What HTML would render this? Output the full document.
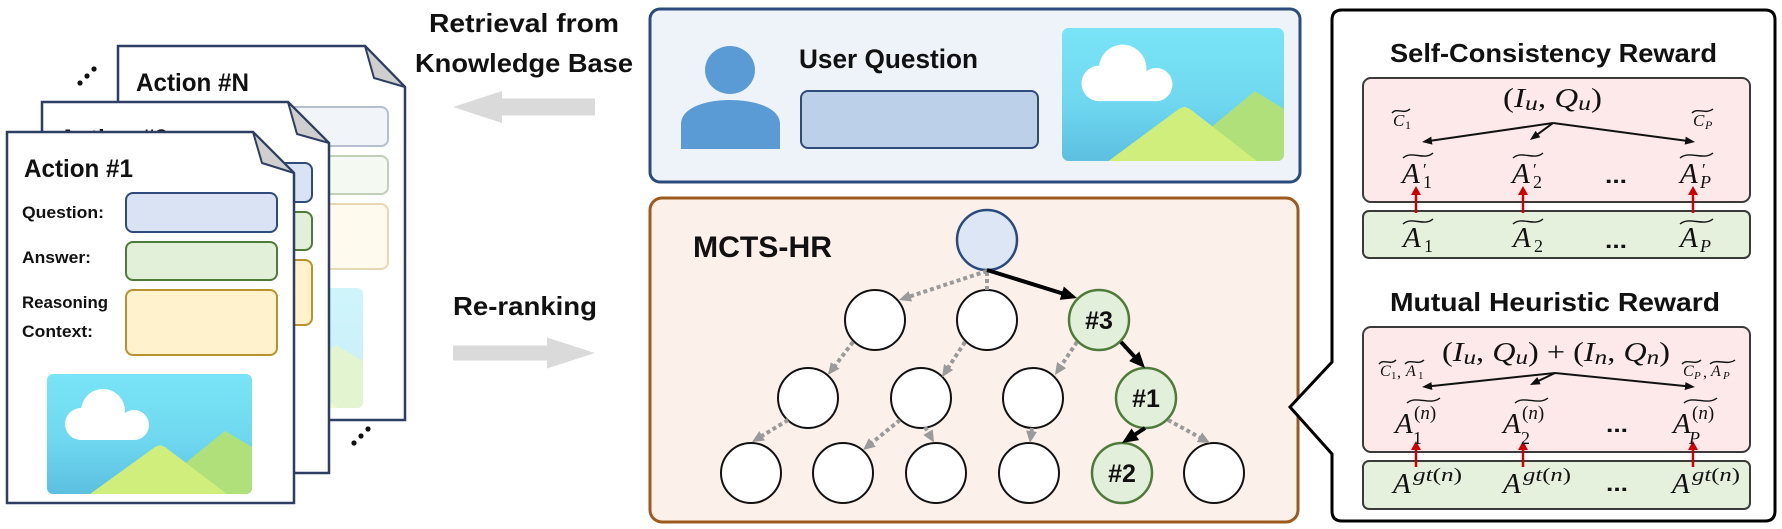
<!DOCTYPE html>
<html><head><meta charset="utf-8">
<style>html,body{margin:0;padding:0;background:#fff}svg{display:block}</style>
</head>
<body>
<svg width="1782" height="529" viewBox="0 0 1782 529" xmlns="http://www.w3.org/2000/svg" font-family="'Liberation Sans', sans-serif">
<defs>
  <linearGradient id="sky" x1="0" y1="0" x2="0" y2="1">
    <stop offset="0" stop-color="#79e4f6"/><stop offset="0.55" stop-color="#6fd8f0"/><stop offset="1" stop-color="#5cbfe0"/>
  </linearGradient>
  <clipPath id="picclip"><rect x="0" y="0" width="205" height="120" rx="6"/></clipPath>
  <g id="pic">
    <g clip-path="url(#picclip)">
      <rect width="205" height="120" fill="url(#sky)"/>
      <g fill="#ffffff">
        <circle cx="56" cy="37" r="22"/>
        <circle cx="34" cy="50" r="16"/>
        <circle cx="87" cy="51" r="15"/>
        <rect x="34" y="40" width="54" height="26"/>
      </g>
      <polygon points="100,120 178,57 205,73 205,120" fill="#afe07a"/>
      <polygon points="43,120 108,73 113,71 118,73 180,120" fill="#cfee7c"/>
    </g>
  </g>
  <marker id="mg" viewBox="0 0 12 11" markerWidth="12" markerHeight="11" refX="2" refY="5.5" orient="auto" markerUnits="userSpaceOnUse">
    <path d="M0,0 L12,5.5 L0,11 Z" fill="#9a9a9a"/>
  </marker>
  <marker id="mb" viewBox="0 0 16 14" markerWidth="16" markerHeight="14" refX="3" refY="7" orient="auto" markerUnits="userSpaceOnUse">
    <path d="M0,0 L16,7 L0,14 Z" fill="#000"/>
  </marker>
  <marker id="mm" viewBox="0 0 10 8" markerWidth="10" markerHeight="8" refX="2" refY="4" orient="auto" markerUnits="userSpaceOnUse">
    <path d="M0,0 L10,4 L0,8 Z" fill="#111"/>
  </marker>
</defs>

<!-- ================= LEFT: PAGES ================= -->
<!-- dots -->
<g fill="#111">
  <circle cx="80" cy="83" r="2.6"/><circle cx="87" cy="76" r="2.6"/><circle cx="94" cy="69" r="2.6"/>
  <circle cx="354" cy="443" r="2.6"/><circle cx="361" cy="436" r="2.6"/><circle cx="368" cy="429" r="2.6"/>
</g>

<!-- Page N -->
<path d="M118,46 H365 L405,87 V420 H118 Z" fill="#fff" stroke="#2d3e62" stroke-width="2.5"/>
<polygon points="365,46 405,87 374,78" fill="#cfcfcf" stroke="#2d3e62" stroke-width="2" stroke-linejoin="round"/>
<text x="136" y="91" font-size="25" font-weight="bold" fill="#111" textLength="113" lengthAdjust="spacingAndGlyphs">Action #N</text>
<g opacity="0.35">
  <rect x="237" y="107" width="151" height="39" rx="7" fill="#dae3f3" stroke="#2f4b7c" stroke-width="2"/>
  <rect x="237" y="156" width="151" height="38" rx="7" fill="#e2efd9" stroke="#4f7a3a" stroke-width="2"/>
  <rect x="237" y="204" width="151" height="65" rx="7" fill="#fff2cc" stroke="#b8922a" stroke-width="2"/>
  <use href="#pic" transform="translate(158,288)"/>
</g>

<!-- Page 2 -->
<path d="M42,102 H288 L329,143 V473 H42 Z" fill="#fff" stroke="#2d3e62" stroke-width="2.5"/>
<polygon points="288,102 329,143 297,134" fill="#cfcfcf" stroke="#2d3e62" stroke-width="2" stroke-linejoin="round"/>
<text x="59" y="147" font-size="25" font-weight="bold" fill="#111" textLength="109" lengthAdjust="spacingAndGlyphs">Action #2</text>
<rect x="161" y="163" width="151" height="39" rx="7" fill="#dae3f3" stroke="#2f4b7c" stroke-width="2"/>
<rect x="161" y="212" width="151" height="38" rx="7" fill="#e2efd9" stroke="#4f7a3a" stroke-width="2"/>
<rect x="161" y="260" width="151" height="65" rx="7" fill="#fff2cc" stroke="#b8922a" stroke-width="2"/>

<!-- Page 1 -->
<path d="M7,132 H253 L294,173 V503 H7 Z" fill="#fff" stroke="#2d3e62" stroke-width="2.5"/>
<polygon points="253,132 294,173 262,163" fill="#cfcfcf" stroke="#2d3e62" stroke-width="2" stroke-linejoin="round"/>
<text x="24" y="177" font-size="25" font-weight="bold" fill="#111" textLength="109" lengthAdjust="spacingAndGlyphs">Action #1</text>
<g font-size="17" font-weight="bold" fill="#111">
  <text x="22" y="218" textLength="82" lengthAdjust="spacingAndGlyphs">Question:</text>
  <text x="22" y="263" textLength="69" lengthAdjust="spacingAndGlyphs">Answer:</text>
  <text x="22" y="308" textLength="86" lengthAdjust="spacingAndGlyphs">Reasoning</text>
  <text x="22" y="337" textLength="71" lengthAdjust="spacingAndGlyphs">Context:</text>
</g>
<rect x="126" y="193" width="151" height="39" rx="7" fill="#dae3f3" stroke="#2f4b7c" stroke-width="2"/>
<rect x="126" y="242" width="151" height="38" rx="7" fill="#e2efd9" stroke="#4f7a3a" stroke-width="2"/>
<rect x="126" y="290" width="151" height="65" rx="7" fill="#fff2cc" stroke="#b8922a" stroke-width="2"/>
<use href="#pic" transform="translate(47,374)"/>

<!-- ================= MIDDLE ARROWS ================= -->
<g font-size="26" font-weight="bold" fill="#111">
  <text x="429" y="32" textLength="190" lengthAdjust="spacingAndGlyphs">Retrieval from</text>
  <text x="415" y="72" textLength="218" lengthAdjust="spacingAndGlyphs">Knowledge Base</text>
  <text x="453" y="315" textLength="144" lengthAdjust="spacingAndGlyphs">Re-ranking</text>
</g>
<polygon points="453,107 502,91 502,98.5 595,98.5 595,115.5 502,115.5 502,123" fill="#dadada"/>
<polygon points="453,345.5 547,345.5 547,337.5 595,353 547,368.5 547,360.5 453,360.5" fill="#dadada"/>

<!-- ================= USER QUESTION ================= -->
<rect x="650" y="9" width="650" height="173" rx="10" fill="#eef2f9" stroke="#2a4b7c" stroke-width="3"/>
<ellipse cx="730" cy="70" rx="25" ry="24" fill="#5b9bd5"/>
<path d="M681,149 V124 C681,108 705,100 730,100 C755,100 780,108 780,124 V149 Z" fill="#5b9bd5"/>
<text x="799" y="68" font-size="27" font-weight="bold" fill="#111" textLength="179" lengthAdjust="spacingAndGlyphs">User Question</text>
<rect x="801" y="91" width="237" height="57" rx="7" fill="#bdd0ea" stroke="#2f4b7c" stroke-width="2"/>
<use href="#pic" transform="translate(1062,28) scale(1.083,1.108)"/>

<!-- ================= MCTS-HR ================= -->
<rect x="650" y="198" width="648" height="324" rx="12" fill="#fcf1ea" stroke="#9e5a1e" stroke-width="3"/>
<text x="693" y="257" font-size="30" font-weight="bold" fill="#111" textLength="139" lengthAdjust="spacingAndGlyphs">MCTS-HR</text>

<!-- nodes -->
<circle cx="987" cy="240" r="30" fill="#dce6f4" stroke="#2a4a7c" stroke-width="2.5"/>
<g fill="#fff" stroke="#111" stroke-width="2">
  <circle cx="875" cy="320" r="30"/>
  <circle cx="987" cy="320" r="30"/>
  <circle cx="808" cy="398" r="30"/>
  <circle cx="921" cy="398" r="30"/>
  <circle cx="1033" cy="398" r="30"/>
  <circle cx="751" cy="473" r="30"/>
  <circle cx="843" cy="473" r="30"/>
  <circle cx="936" cy="473" r="30"/>
  <circle cx="1029" cy="473" r="30"/>
  <circle cx="1214" cy="473" r="30"/>
</g>
<g fill="#e2efda" stroke="#4e7a3a" stroke-width="2.5">
  <circle cx="1099" cy="320" r="30"/>
  <circle cx="1146" cy="398" r="30"/>
  <circle cx="1122" cy="473" r="30"/>
</g>
<g font-size="25" font-weight="bold" fill="#111" text-anchor="middle">
  <text x="1099" y="329">#3</text>
  <text x="1146" y="407">#1</text>
  <text x="1122" y="482">#2</text>
</g>

<!-- dotted edges -->
<g stroke="#9a9a9a" stroke-width="4" stroke-dasharray="4 3" fill="none">
  <line x1="987" y1="271" x2="908.5" y2="296.9" marker-end="url(#mg)"/>
  <line x1="987" y1="272" x2="987" y2="290"/>
  <line x1="853" y1="342" x2="834" y2="367" marker-end="url(#mg)"/>
  <line x1="965" y1="342" x2="947.5" y2="368.7" marker-end="url(#mg)"/>
  <line x1="1077" y1="342" x2="1060.5" y2="366.7" marker-end="url(#mg)"/>
  <line x1="788" y1="420" x2="760.5" y2="436.8" marker-end="url(#mg)"/>
  <line x1="900" y1="420" x2="870.8" y2="443.7" marker-end="url(#mg)"/>
  <line x1="925" y1="427" x2="929" y2="433.9" marker-end="url(#mg)"/>
  <line x1="1032" y1="428" x2="1031.3" y2="433.1" marker-end="url(#mg)"/>
  <line x1="1168" y1="420" x2="1201.2" y2="438.2" marker-end="url(#mg)"/>
</g>
<!-- bold edges -->
<g stroke="#000" stroke-width="4" fill="none">
  <line x1="987" y1="270" x2="1064.6" y2="294.1" marker-end="url(#mb)"/>
  <line x1="1121" y1="342" x2="1136.2" y2="358.5" marker-end="url(#mb)"/>
  <line x1="1145" y1="428" x2="1132.9" y2="435.9" marker-end="url(#mb)"/>
</g>

<!-- ================= RIGHT PANEL ================= -->
<path d="M1342,10 H1765 Q1775,10 1775,20 V511 Q1775,521 1765,521 H1342 Q1332,521 1332,511 V454 L1290,407 L1332,362 V20 Q1332,10 1342,10 Z" fill="#fff" stroke="#000" stroke-width="3" stroke-linejoin="miter"/>
<g font-size="26" font-weight="bold" fill="#111">
  <text x="1390" y="62" textLength="327" lengthAdjust="spacingAndGlyphs">Self-Consistency Reward</text>
  <text x="1390" y="311" textLength="330" lengthAdjust="spacingAndGlyphs">Mutual Heuristic Reward</text>
</g>

<rect x="1363" y="78" width="387" height="124" rx="8" fill="#fde9e9" stroke="#3a3a3a" stroke-width="2"/>
<rect x="1363" y="211" width="387" height="47" rx="6" fill="#e5f0dd" stroke="#3a3a3a" stroke-width="2"/>
<rect x="1363" y="327" width="387" height="125" rx="8" fill="#fde9e9" stroke="#3a3a3a" stroke-width="2"/>
<rect x="1363" y="461" width="387" height="48" rx="6" fill="#e5f0dd" stroke="#3a3a3a" stroke-width="2"/>

<!-- math arrows -->
<g stroke="#111" stroke-width="2" fill="none">
  <line x1="1553" y1="123" x2="1429.9" y2="140.9" marker-end="url(#mm)"/>
  <line x1="1553" y1="123" x2="1536.4" y2="135.2" marker-end="url(#mm)"/>
  <line x1="1553" y1="123" x2="1687.1" y2="140.9" marker-end="url(#mm)"/>
  <line x1="1555" y1="373" x2="1430" y2="386.2" marker-end="url(#mm)"/>
  <line x1="1555" y1="373" x2="1537.2" y2="381.5" marker-end="url(#mm)"/>
  <line x1="1555" y1="373" x2="1687" y2="386.2" marker-end="url(#mm)"/>
</g>

<!-- red arrows -->
<g stroke="#cc0000" stroke-width="2.5">
  <line x1="1416" y1="213" x2="1416" y2="193"/>
  <line x1="1523" y1="213" x2="1523" y2="193"/>
  <line x1="1693" y1="213" x2="1693" y2="193"/>
  <line x1="1416" y1="467" x2="1416" y2="448"/>
  <line x1="1523" y1="467" x2="1523" y2="448"/>
  <line x1="1693" y1="467" x2="1693" y2="448"/>
</g>
<g fill="#cc0000">
  <polygon points="1416,186 1411,195 1421,195"/>
  <polygon points="1523,186 1518,195 1528,195"/>
  <polygon points="1693,186 1688,195 1698,195"/>
  <polygon points="1416,441 1411,450 1421,450"/>
  <polygon points="1523,441 1518,450 1528,450"/>
  <polygon points="1693,441 1688,450 1698,450"/>
</g>

<!-- tildes -->
<g stroke="#111" stroke-width="1.4" fill="none">
  <!-- box1 small -->
  <path d="M1392,113 C1397,107 1403,115 1410,109"/>
  <path d="M1692,113 C1698,107 1705,115 1713,109"/>
  <!-- box1 A' row -->
  <path d="M1403,158 C1412,150 1424,161 1433,153"/>
  <path d="M1513,158 C1522,150 1534,161 1543,153"/>
  <path d="M1680,158 C1690,150 1703,161 1713,153"/>
  <!-- box1 green -->
  <path d="M1403,224 C1412,216 1424,227 1433,219"/>
  <path d="M1513,224 C1522,216 1534,227 1543,219"/>
  <path d="M1680,224 C1690,216 1703,227 1713,219"/>
  <!-- box2 small -->
  <path d="M1379,364 C1384,358 1390,366 1396,360"/>
  <path d="M1405,364 C1411,358 1417,366 1424,360"/>
  <path d="M1682,364 C1688,358 1694,366 1701,360"/>
  <path d="M1710,364 C1717,358 1727,366 1735,360"/>
  <!-- box2 A(n) row -->
  <path d="M1407,403 C1416,395 1430,406 1440,398"/>
  <path d="M1515,403 C1524,395 1538,406 1548,398"/>
  <path d="M1684,403 C1693,395 1707,406 1717,398"/>
</g>

<g font-family="'Liberation Serif', serif" fill="#111">
  <!-- box 1 -->
  <text x="1503" y="107" font-size="27" textLength="99" lengthAdjust="spacingAndGlyphs">(<tspan font-style="italic">I</tspan><tspan font-style="italic" font-size="21" dy="3">u</tspan><tspan dy="-3">, </tspan><tspan font-style="italic">Q</tspan><tspan font-style="italic" font-size="21" dy="3">u</tspan><tspan dy="-3">)</tspan></text>
  <text x="1393" y="126" font-size="17" font-style="italic">C</text>
  <text x="1405" y="129" font-size="12">1</text>
  <text x="1693" y="126" font-size="17" font-style="italic">C</text>
  <text x="1705" y="129" font-size="12" font-style="italic">P</text>

  <text x="1402" y="183" font-size="29" font-style="italic">A</text>
  <text x="1423" y="175" font-size="17">′</text>
  <text x="1423" y="188" font-size="18">1</text>
  <text x="1512" y="183" font-size="29" font-style="italic">A</text>
  <text x="1533" y="175" font-size="17">′</text>
  <text x="1533" y="188" font-size="18">2</text>
  <text x="1680" y="183" font-size="29" font-style="italic">A</text>
  <text x="1702" y="175" font-size="17">′</text>
  <text x="1700" y="188" font-size="18" font-style="italic">P</text>

  <text x="1403" y="247" font-size="29" font-style="italic">A</text>
  <text x="1424" y="252" font-size="18">1</text>
  <text x="1513" y="247" font-size="29" font-style="italic">A</text>
  <text x="1534" y="252" font-size="18">2</text>
  <text x="1680" y="247" font-size="29" font-style="italic">A</text>
  <text x="1700" y="252" font-size="18" font-style="italic">P</text>

  <!-- box 2 -->
  <text x="1442" y="361" font-size="27" textLength="228" lengthAdjust="spacingAndGlyphs">(<tspan font-style="italic">I</tspan><tspan font-style="italic" font-size="21" dy="3">u</tspan><tspan dy="-3">, </tspan><tspan font-style="italic">Q</tspan><tspan font-style="italic" font-size="21" dy="3">u</tspan><tspan dy="-3">) + (</tspan><tspan font-style="italic">I</tspan><tspan font-style="italic" font-size="21" dy="3">n</tspan><tspan dy="-3">, </tspan><tspan font-style="italic">Q</tspan><tspan font-style="italic" font-size="21" dy="3">n</tspan><tspan dy="-3">)</tspan></text>
  <text x="1380" y="376" font-size="16" font-style="italic">C</text>
  <text x="1391" y="379" font-size="11">1</text>
  <text x="1397" y="377" font-size="16">,</text>
  <text x="1406" y="376" font-size="16" font-style="italic">A</text>
  <text x="1418" y="379" font-size="11">1</text>
  <text x="1683" y="376" font-size="16" font-style="italic">C</text>
  <text x="1694" y="379" font-size="11" font-style="italic">P</text>
  <text x="1703" y="377" font-size="16">,</text>
  <text x="1711" y="376" font-size="16" font-style="italic">A</text>
  <text x="1723" y="379" font-size="11" font-style="italic">P</text>

  <text x="1395" y="433" font-size="29" font-style="italic">A</text>
  <text x="1414" y="419" font-size="19">(<tspan font-style="italic">n</tspan>)</text>
  <text x="1413" y="444" font-size="18">1</text>
  <text x="1503" y="433" font-size="29" font-style="italic">A</text>
  <text x="1522" y="419" font-size="19">(<tspan font-style="italic">n</tspan>)</text>
  <text x="1521" y="444" font-size="18">2</text>
  <text x="1673" y="433" font-size="29" font-style="italic">A</text>
  <text x="1692" y="419" font-size="19">(<tspan font-style="italic">n</tspan>)</text>
  <text x="1689" y="444" font-size="18" font-style="italic">P</text>

  <text x="1393" y="493" font-size="29" font-style="italic">A</text>
  <text x="1413" y="481" font-size="19" textLength="49" lengthAdjust="spacingAndGlyphs"><tspan font-style="italic">gt</tspan>(<tspan font-style="italic">n</tspan>)</text>
  <text x="1503" y="493" font-size="29" font-style="italic">A</text>
  <text x="1523" y="481" font-size="19" textLength="48" lengthAdjust="spacingAndGlyphs"><tspan font-style="italic">gt</tspan>(<tspan font-style="italic">n</tspan>)</text>
  <text x="1672" y="493" font-size="29" font-style="italic">A</text>
  <text x="1692" y="481" font-size="19" textLength="48" lengthAdjust="spacingAndGlyphs"><tspan font-style="italic">gt</tspan>(<tspan font-style="italic">n</tspan>)</text>
</g>

<!-- ellipses -->
<g font-size="22" font-weight="bold" fill="#111">
  <text x="1605" y="183" textLength="22" lengthAdjust="spacingAndGlyphs">...</text>
  <text x="1605" y="248" textLength="22" lengthAdjust="spacingAndGlyphs">...</text>
  <text x="1606" y="432" textLength="22" lengthAdjust="spacingAndGlyphs">...</text>
  <text x="1606" y="491" textLength="22" lengthAdjust="spacingAndGlyphs">...</text>
</g>
</svg>
</body>
</html>
